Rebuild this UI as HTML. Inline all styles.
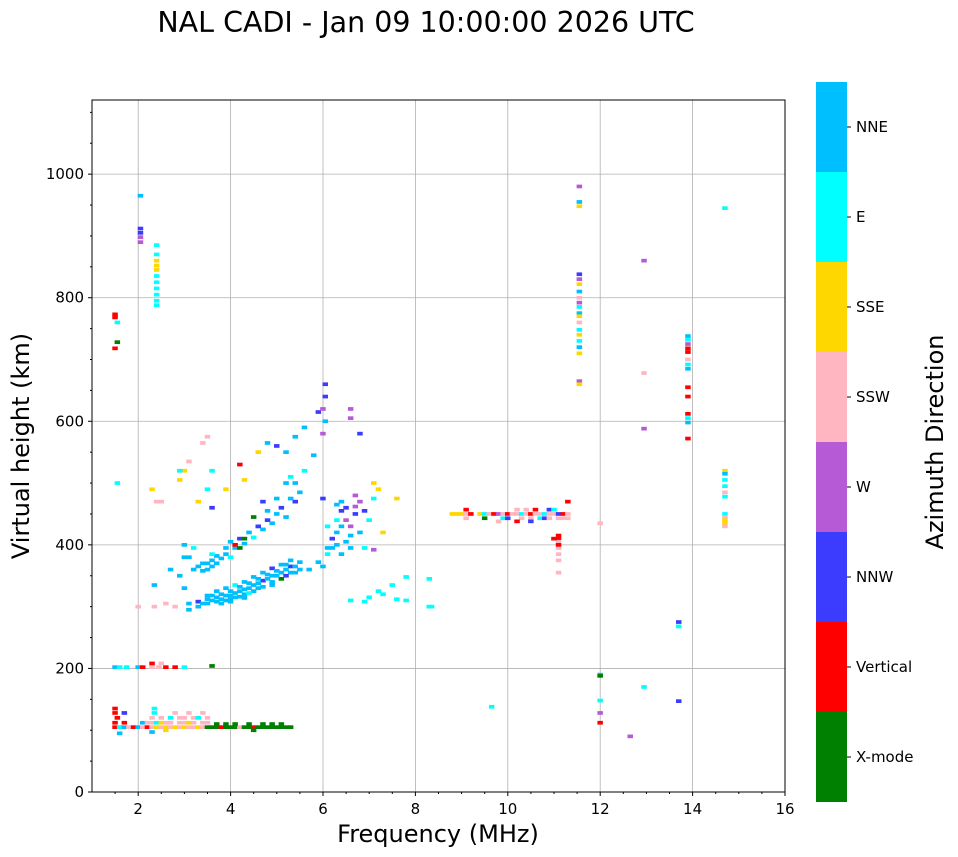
<!DOCTYPE html>
<html><head><meta charset="utf-8"><style>
html,body{margin:0;padding:0;background:#fff;}
svg{display:block;font-family:"DejaVu Sans","Liberation Sans",sans-serif;}
</style></head><body>
<svg id="chart" width="958" height="857" viewBox="0 0 958 857" xmlns="http://www.w3.org/2000/svg">
<text x="426" y="32" font-size="28.5" text-anchor="middle">NAL CADI - Jan 09 10:00:00 2026 UTC</text>
<g id="grid"></g>
<g id="marks"></g>
<rect x="92" y="100" width="693" height="692" fill="none" stroke="#000" stroke-width="1"/>
<g id="axes"></g>
<text x="438" y="842" font-size="24" text-anchor="middle">Frequency (MHz)</text>
<text transform="translate(29,446) rotate(-90)" font-size="24" text-anchor="middle">Virtual height (km)</text>
<g id="cbar"></g>
<text transform="translate(943,442) rotate(-90)" font-size="24" text-anchor="middle">Azimuth Direction</text>
</svg>
<script>
const directions = ["X-mode","Vertical","NNW","W","SSW","SSE","E","NNE"];
const dirColors = ["#008000","#ff0000","#3c3cff","#b65ad6","#ffb6c1","#ffd700","#00ffff","#00bfff"];
const xTicks = [2,4,6,8,10,12,14,16];
const yTicks = [0,200,400,600,800,1000];
const eLayer = [
[1.5,105,1],[1.6,105,6],[1.7,105,7],[1.8,105,4],[1.9,105,1],[2.0,105,7],[2.1,105,4],[2.2,105,1],[2.3,105,4],[2.4,105,5],[2.5,105,4],[2.6,105,5],[2.7,105,4],[2.8,105,5],[2.9,105,4],[3.0,105,5],[3.1,105,4],[3.2,105,4],[3.3,105,5],[3.4,105,4],[3.5,105,0],[3.6,105,0],[3.7,105,0],[3.8,105,1],[3.9,105,0],[4.0,105,0],[4.1,105,0],[4.2,105,4],[4.3,105,0],[4.4,105,0],[4.5,105,1],[4.6,105,0],[4.7,105,0],[4.8,105,0],[4.9,105,0],[5.0,105,0],[5.1,105,0],[5.2,105,0],[5.3,105,0],
[1.5,112,1],[1.7,112,1],[2.1,112,7],[2.2,112,4],[2.3,112,4],[2.4,112,6],[2.5,112,5],[2.6,112,4],[2.7,112,4],[2.9,112,4],[3.0,112,4],[3.1,112,5],[3.2,112,4],[3.4,112,4],[3.5,112,4],[3.7,110,0],[3.9,110,0],[4.1,110,0],[4.4,110,0],[4.7,110,0],[4.9,110,0],[5.1,110,0],
[1.55,120,1],[2.3,120,4],[2.5,120,4],[2.7,120,6],[2.9,120,4],[3.0,120,4],[3.2,120,4],[3.3,120,6],[3.5,120,4],
[1.5,128,1],[1.7,128,2],[2.35,128,6],[2.8,128,4],[3.1,128,4],[3.4,128,4],[1.5,135,1],[2.35,135,6],
[1.6,95,7],[2.3,97,7],[2.6,100,5],[4.5,100,0],
[1.5,202,7],[1.6,202,6],[1.75,202,6],[2.0,202,7],[2.1,202,1],[2.3,202,4],[2.45,202,4],[2.6,202,1],[2.8,202,1],[3.0,202,6],[2.3,208,1],[2.5,208,4],[3.6,204,0]
];
const fLower = [
[3.1,295,7],[3.1,305,7],[3.3,300,7],[3.3,308,2],[3.5,305,7],[3.5,312,7],[3.5,318,7],[3.7,308,7],[3.7,315,7],[3.7,325,7],[3.9,310,7],[3.9,318,7],[3.9,330,7],
[4.1,315,7],[4.1,322,7],[4.1,335,6],[4.3,320,7],[4.3,328,7],[4.3,340,7],[4.5,325,7],[4.5,335,7],[4.5,348,7],[4.7,332,7],[4.7,342,2],[4.7,355,7],
[4.9,340,7],[4.9,350,7],[4.9,362,2],[5.1,345,0],[5.1,355,7],[5.1,368,7],[5.3,355,7],[5.3,365,2],[5.3,375,7],[5.5,360,7],[5.5,372,7],
[3.6,318,7],[3.8,312,7],[4.0,318,7],[4.2,325,7],[4.4,330,7],[4.6,338,7],[4.8,345,7],[5.0,350,7],[5.2,360,7],[5.4,365,7],[4.0,312,7],[4.2,316,7],[4.4,322,6],
[3.4,305,7],[3.6,310,7],[3.8,320,7],[4.0,325,7],[4.2,332,7],[4.4,338,7],[4.6,345,7],[4.8,352,7],[5.0,358,7],[5.2,368,7],[3.8,305,7],[4.0,308,7],[4.3,314,7],[4.6,330,7],[4.9,335,7],[5.2,350,2],[5.4,355,7]
];
const fUpper = [
[3.3,365,7],[3.5,370,7],[3.6,375,7],[3.7,382,7],[3.5,360,7],[3.7,370,7],[3.9,395,7],[4.0,405,7],[4.2,410,2],[4.4,420,7],[4.6,430,7],[4.8,440,2],[5.0,450,7],[5.1,460,2],[5.3,475,7],[5.4,500,7],[5.6,520,6],[5.8,545,7],[6.0,580,3],[6.05,600,7],[6.05,640,2],[6.05,660,2],
[3.4,370,7],[3.6,365,7],[3.8,378,7],[3.6,385,6],[3.4,358,7],[3.9,385,7],[4.1,395,7],[4.3,402,7],[4.5,412,6],[4.7,425,7],[4.9,435,7],[5.2,445,7],[5.4,470,2],[5.5,485,7]
];
const scatter = [
[2.0,300,4],[2.35,300,4],[2.35,335,7],[2.7,360,7],[2.9,350,7],[3.0,380,7],[3.2,395,6],[3.0,400,7],[2.9,505,5],[3.0,520,5],[3.1,535,4],[3.4,565,4],[3.5,575,4],[2.3,490,5],[2.4,470,4],[2.5,470,4],[2.9,520,6],[3.3,470,5],[3.5,490,6],[3.6,520,6],[3.9,490,5],[4.2,530,1],[4.3,505,5],[4.6,550,5],[4.8,565,7],[5.0,560,2],[5.2,550,7],[5.4,575,7],[5.6,590,7],[5.9,615,2],[6.0,620,3],[6.6,620,3],[6.6,605,3],[6.8,580,2],[6.0,475,2],[6.1,430,6],[4.1,400,1],[4.2,395,0],[4.5,445,0],[4.6,430,2],[4.8,455,7],[4.7,470,2],[5.0,475,7],[5.2,500,7],[5.3,510,6],[3.6,460,2],[4.0,380,6],[4.3,410,0],[2.6,305,4],[1.55,500,6],
[6.2,395,7],[6.3,420,7],[6.3,440,6],[6.4,470,7],[6.4,455,2],[6.5,405,7],[6.6,430,3],[6.6,395,7],[6.7,480,3],[6.7,450,2],[6.8,420,7],[6.9,395,6],[7.0,440,6],[7.1,475,6],[7.1,500,5],[7.2,490,5],[6.1,385,6],[6.0,365,7],[5.9,372,7],[5.7,360,7],[6.2,410,2],[6.5,440,3],[6.9,455,2],[7.1,392,3],[7.3,420,5],[7.6,475,5],[6.7,462,3],
[6.6,310,6],[6.9,308,6],[7.0,315,6],[7.2,325,6],[7.3,320,6],[7.5,335,6],[7.6,312,6],[7.8,348,6],[7.8,310,6],[8.3,345,6],[8.3,300,6],[8.35,300,6],
[6.3,465,7],[6.4,430,7],[6.6,415,7],[6.3,400,7],[6.1,395,7],[6.5,460,2],[6.8,470,3],[6.4,385,7],[3.1,380,7],[3.2,360,7],[3.0,330,7],[2.8,300,4]
];
const f2Layer = [
[8.8,450,5],[8.9,450,5],[9.0,450,5],[9.1,450,4],[9.2,450,1],[9.4,450,5],[9.5,450,6],[9.6,450,4],[9.7,450,1],[9.8,450,3],[9.9,450,4],[10.0,450,1],[10.1,450,4],[10.2,450,4],[10.3,450,6],[10.4,450,4],[10.5,450,1],[10.6,450,4],[10.7,450,4],[10.8,450,6],[10.9,450,4],[11.0,450,4],[11.1,450,2],[11.2,450,1],[11.3,450,4],
[9.1,443,4],[9.5,443,0],[9.9,443,6],[10.0,443,2],[10.3,443,4],[10.5,443,4],[10.7,443,6],[10.8,443,2],[10.9,443,4],[11.1,443,4],[11.2,443,4],[11.3,443,4],
[9.1,457,1],[10.2,457,4],[10.4,457,4],[10.6,457,1],[10.9,457,2],[11.0,457,6],[11.3,470,1],[9.8,438,4],[10.2,438,1],[10.5,438,2],
[11.1,415,1],[11.1,410,1],[11.1,405,4],[11.1,395,4],[11.1,385,4],[11.1,400,1],[11.1,375,4],[11.1,355,4],[11.0,410,1]
];
const columns = [
[1.5,773,1],[1.5,768,1],[1.55,760,6],[1.55,728,0],[1.5,718,1],
[2.05,965,7],[2.05,912,2],[2.05,905,2],[2.05,898,3],[2.05,890,3],
[2.4,885,6],[2.4,870,6],[2.4,860,5],[2.4,852,5],[2.4,845,5],[2.4,835,6],[2.4,825,6],[2.4,815,6],[2.4,805,6],[2.4,795,6],[2.4,788,6],
[11.55,980,3],[11.55,955,7],[11.55,948,5],[11.55,838,2],[11.55,830,3],[11.55,822,5],[11.55,810,7],[11.55,800,4],[11.55,792,3],[11.55,785,6],[11.55,775,7],[11.55,770,5],[11.55,760,4],[11.55,748,6],[11.55,740,5],[11.55,730,6],[11.55,720,7],[11.55,710,5],[11.55,665,3],[11.55,660,5],
[13.9,738,7],[13.9,732,6],[13.9,725,3],[13.9,718,1],[13.9,712,1],[13.9,700,4],[13.9,692,6],[13.9,685,7],[13.9,655,1],[13.9,640,1],[13.9,612,1],[13.9,605,6],[13.9,598,7],[13.9,572,1],
[14.7,945,6],[14.7,520,5],[14.7,515,7],[14.7,505,6],[14.7,495,6],[14.7,485,4],[14.7,478,6],[14.7,450,6],[14.7,445,4],[14.7,440,5],[14.7,435,5],[14.7,430,4],
[12.95,860,3],[12.95,678,4],[12.95,588,3],[13.7,275,2],[13.7,268,6],[13.7,147,2],[12.95,170,6],[12.65,90,3],[12.0,190,7],[12.0,188,0],[12.0,148,6],[12.0,128,3],[12.0,112,1],[12.0,435,4],[9.65,138,6]
];

const NS="http://www.w3.org/2000/svg";
const X0=92,X1=785,Y0=792,Y1=100,FMIN=1,FMAX=16,HMIN=0,HMAX=1120;
function xs(f){return X0+(f-FMIN)/(FMAX-FMIN)*(X1-X0);}
function ys(h){return Y0-(h-HMIN)/(HMAX-HMIN)*(Y0-Y1);}
function mk(tag,attrs,parent){const e=document.createElementNS(NS,tag);for(const k in attrs)e.setAttribute(k,attrs[k]);parent.appendChild(e);return e;}
const grid=document.getElementById('grid'),axes=document.getElementById('axes'),marks=document.getElementById('marks'),cbar=document.getElementById('cbar');
xTicks.forEach(t=>{const x=xs(t);
 if(t<FMAX){const g=mk('line',{x1:x,x2:x,y1:Y1,y2:Y0,stroke:'#b0b0b0','stroke-width':0.8},grid);
 
 }
 const tk=mk('line',{x1:x,x2:x,y1:Y0,y2:Y0+4,stroke:'#000'},axes);
 
 
 const lb=mk('text',{x:x,y:Y0+22,'font-size':15,'text-anchor':'middle'},axes);lb.textContent=t;
 
 
});
for(let f=1.5;f<16;f+=0.5){if(Number.isInteger(f/2))continue;const x=xs(f);mk('line',{x1:x,x2:x,y1:Y0,y2:Y0+2,stroke:'#000'},axes);}
yTicks.forEach(t=>{const y=ys(t);
 if(t>HMIN){const g=mk('line',{x1:X0,x2:X1,y1:y,y2:y,stroke:'#b0b0b0','stroke-width':0.8},grid);
 
 }
 mk('line',{x1:X0-4,x2:X0,y1:y,y2:y,stroke:'#000'},axes);
 const lb=mk('text',{x:X0-8,y:y+5,'font-size':15,'text-anchor':'end'},axes);lb.textContent=t;
 
 
});
for(let h=50;h<HMAX;h+=50){if(h%200===0)continue;const y=ys(h);mk('line',{x1:X0-2,x2:X0,y1:y,y2:y,stroke:'#000'},axes);}
const CW=0.12,CH=6;
[eLayer,fLower,fUpper,scatter,f2Layer,columns].forEach(arr=>arr.forEach(p=>{
 const x=xs(p[0]-CW/2),y=ys(p[1]+CH/2);
 const r=mk('rect',{x:x.toFixed(1),y:y.toFixed(1),width:(xs(p[0]+CW/2)-x).toFixed(1),height:(ys(p[1]-CH/2)-y).toFixed(1),fill:dirColors[p[2]]},marks);
 
 
}));
const CB_X=816,CB_W=31,CB_TOP=82,CB_BOT=802,bh=(CB_BOT-CB_TOP)/directions.length;
directions.forEach((d,i)=>{const y=CB_BOT-(i+1)*bh;
 const r=mk('rect',{x:CB_X,y:y,width:CB_W,height:bh,fill:dirColors[i]},cbar);
 
 
 mk('line',{x1:CB_X+CB_W,x2:CB_X+CB_W+4,y1:y+bh/2,y2:y+bh/2,stroke:'#000'},cbar);
 const t=mk('text',{x:CB_X+CB_W+9,y:y+bh/2+5,'font-size':15},cbar);t.textContent=d;
 
 
});
</script>
</body></html>
